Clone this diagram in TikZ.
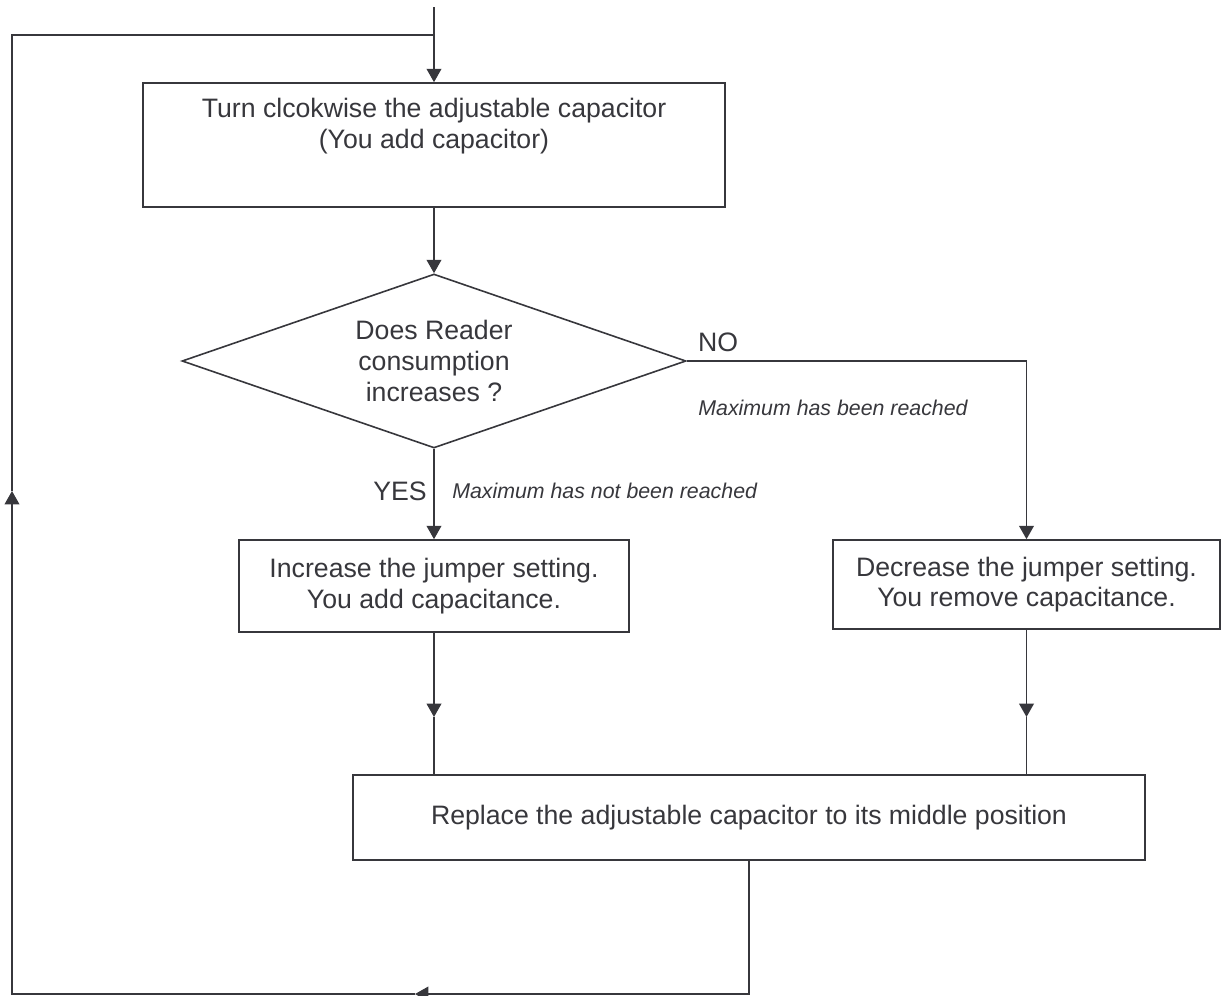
\documentclass[tikz,border=0pt]{standalone}
\usepackage{fontspec}
\setmainfont{Liberation Sans}
\usetikzlibrary{shapes.geometric,arrows.meta,positioning}

\definecolor{inkgray}{RGB}{55,55,60}

\tikzset{
  wire/.style={draw=inkgray, line width=1.2pt},
  flow/.style={wire, -{Triangle[length=10pt,width=11pt]}},
  flowbox/.style={wire, rectangle, inner sep=0pt, align=center, text=inkgray, font=\fontsize{20}{23}\selectfont},
  decision/.style={wire, diamond, inner sep=0pt, align=center, text=inkgray, font=\fontsize{20}{23}\selectfont, shape aspect=2.9, minimum width=378pt, minimum height=130.5pt},
  branch/.style={text=inkgray, inner sep=0pt, align=center, font=\fontsize{20}{23}\selectfont},
  note/.style={text=inkgray, inner sep=0pt, font=\fontsize{16}{19}\selectfont\itshape},
}

\begin{document}
\begin{tikzpicture}[x=0.75pt,y=0.75pt,yscale=-1,xscale=1]
\useasboundingbox (0,0) rectangle (1222,996);

% Boxes
\node[flowbox, minimum width=436.5pt, minimum height=93pt] (turn) at (434,145) {};
\node[branch] (turntext) at (434,126) {Turn clcokwise the adjustable capacitor\\(You add capacitor)};
\node[decision] (dec) at (434,361) {Does Reader\\consumption\\increases ?};
\node[flowbox, minimum width=292.5pt, minimum height=69pt] (inc) at (434,586) {Increase the jumper setting.\\You add capacitance.};
\node[flowbox, minimum width=290.25pt, minimum height=66.75pt] (less) at (1026.5,584.5) {Decrease the jumper setting.\\You remove capacitance.};
\node[flowbox, minimum width=594pt, minimum height=63.75pt] (mid) at (749,817.5) {Replace the adjustable capacitor to its middle position};

% Labels
\node[branch] (no) at (718,342) {NO};
\node[note] (reached) at (833,408) {Maximum has been reached};
\node[branch] (yes) at (400,491) {YES};
\node[note, anchor=west] (notreached) at (452,491) {Maximum has not been reached};

% Helper points
\coordinate (entry) at (434,7);
\coordinate (looptop) at (434,35);
\coordinate (looptl) at (12,35);
\coordinate (loopup) at (12,491);
\coordinate (loopbl) at (12,994);
\coordinate (looparrow) at (415,994);
\coordinate (incmark) at (434,717);
\coordinate (lessmark) at (1026.5,717);

% Connectors
\draw[flow] (entry) -- (turn.north);
\draw[flow] (turn.south) -- (dec.north);
\draw[flow] (dec.east) -| (less.north);
\draw[flow] (dec.south) -- (inc.north);
\draw[flow] (inc.south) -- (incmark);
\draw[wire] (incmark) -- (inc.south |- mid.north);
\draw[flow] (less.south) -- (lessmark);
\draw[wire] (lessmark) -- (less.south |- mid.north);

% Loop back
\draw[flow] (mid.south) |- (looparrow);
\draw[flow] (looparrow) -- (loopbl) -- (loopup);
\draw[wire] (loopup) -- (looptl) -- (looptop);

\end{tikzpicture}
\end{document}
